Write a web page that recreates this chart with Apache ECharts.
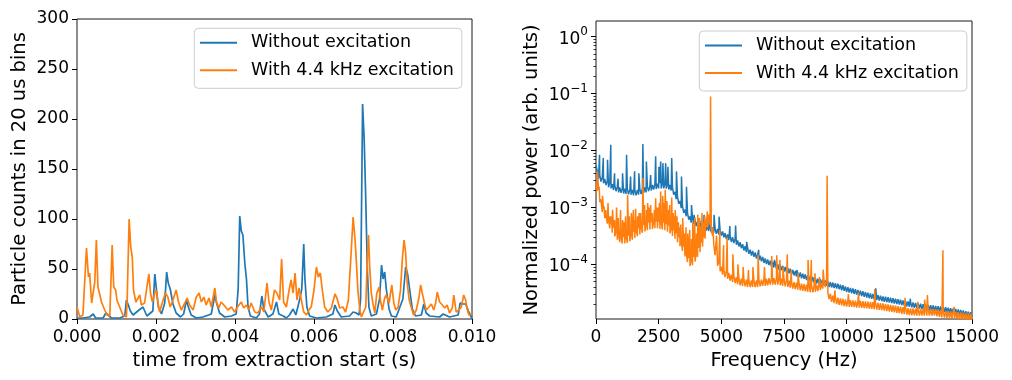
<!DOCTYPE html>
<html><head><meta charset="utf-8">
<script src="https://cdn.jsdelivr.net/npm/echarts@6/dist/echarts.min.js"></script>
<style>html,body{margin:0;padding:0;background:#fff}#c{width:1012px;height:380px}</style>
</head><body><div id="c"></div>
<script>
const seriesNames = ['Without excitation', 'With 4.4 kHz excitation'];
const colors = ['#1f77b4', '#ff7f0e'];

// Left panel: particle counts per 20 us bin, [time (s), counts]
const countsBlue = [[0,1],[0.00015,1],[0.00032,2],[0.00041,5],[0.00047,1],[0.00066,1],[0.00073,6],[0.00078,4],[0.00087,1],[0.00108,1],[0.00121,3],[0.00125,19],[0.0013,14],[0.00135,8],[0.00142,4],[0.00154,8],[0.00167,12],[0.00177,3],[0.00192,8],[0.00197,45],[0.00201,30],[0.00206,12],[0.00214,5],[0.00222,16],[0.00227,47],[0.00231,36],[0.00236,30],[0.00243,15],[0.00251,6],[0.00262,2],[0.0027,5],[0.00277,19],[0.00282,12],[0.00289,4],[0.00302,1],[0.00319,2],[0.0034,5],[0.00349,24],[0.00354,15],[0.00361,6],[0.00374,2],[0.00391,3],[0.00403,5],[0.00408,30],[0.00412,103],[0.00416,88],[0.0042,84],[0.00425,55],[0.00429,40],[0.00433,12],[0.00439,3],[0.00454,1],[0.00462,5],[0.00468,23],[0.00473,10],[0.00484,2],[0.00496,5],[0.00505,17],[0.00511,5],[0.00522,3],[0.0053,1],[0.00538,4],[0.00547,10],[0.00554,4],[0.00564,20],[0.00569,30],[0.00574,75],[0.00577,40],[0.00582,12],[0.00589,3],[0.00606,1],[0.00631,2],[0.00648,5],[0.00653,14],[0.00659,8],[0.00669,2],[0.0069,3],[0.00699,7],[0.00707,6],[0.00714,4],[0.00718,20],[0.00723,215],[0.00727,180],[0.00731,120],[0.00735,50],[0.00739,12],[0.00745,3],[0.00758,5],[0.00766,20],[0.00771,54],[0.00775,40],[0.00779,47],[0.00783,30],[0.0079,10],[0.00796,3],[0.00808,2],[0.00825,20],[0.00832,52],[0.00837,45],[0.00842,30],[0.00849,10],[0.00857,3],[0.00872,4],[0.00878,15],[0.00884,6],[0.00893,3],[0.00918,2],[0.00927,5],[0.00943,2],[0.00965,4],[0.0097,16],[0.00977,15],[0.00984,15],[0.00991,8],[0.01,0]];
const countsOrange = [[0,12],[0.00007,2],[0.00015,4],[0.00024,71],[0.00029,42],[0.00032,46],[0.00037,16],[0.00041,14],[0.00045,37],[0.00049,79],[0.00053,32],[0.00057,31],[0.00062,17],[0.0007,9],[0.00076,4],[0.00083,3],[0.00089,74],[0.00093,32],[0.00098,29],[0.00101,19],[0.00108,12],[0.00116,4],[0.00125,2],[0.00127,19],[0.00132,100],[0.00136,72],[0.0014,62],[0.00143,29],[0.00149,17],[0.00154,19],[0.00159,24],[0.00163,14],[0.00171,16],[0.00177,32],[0.00182,45],[0.00186,26],[0.00191,17],[0.00197,26],[0.00201,29],[0.00205,16],[0.00209,7],[0.00218,19],[0.00224,26],[0.0023,22],[0.00236,12],[0.00243,19],[0.00251,29],[0.00257,17],[0.00264,9],[0.00273,16],[0.00279,21],[0.00285,14],[0.00294,9],[0.00302,22],[0.00309,26],[0.00315,17],[0.00321,22],[0.00327,14],[0.00334,21],[0.0034,12],[0.00349,31],[0.00353,17],[0.00359,11],[0.00365,17],[0.00374,13],[0.00382,9],[0.00391,12],[0.00399,7],[0.00408,13],[0.00416,17],[0.00422,11],[0.00429,14],[0.00435,9],[0.00441,16],[0.0045,7],[0.00458,6],[0.00467,12],[0.00473,7],[0.00481,36],[0.00486,17],[0.00492,9],[0.005,29],[0.00506,26],[0.00513,19],[0.00518,60],[0.00523,17],[0.0053,12],[0.00537,29],[0.00542,39],[0.00547,26],[0.00552,46],[0.00557,19],[0.00562,31],[0.00568,19],[0.00574,7],[0.00581,4],[0.00587,9],[0.00593,12],[0.006,29],[0.00606,52],[0.00611,42],[0.00616,46],[0.00621,29],[0.00627,12],[0.00635,7],[0.00644,11],[0.00653,25],[0.00658,21],[0.00665,11],[0.00673,12],[0.0068,7],[0.00687,19],[0.00694,66],[0.00699,102],[0.00704,79],[0.00707,59],[0.00711,29],[0.00716,9],[0.0072,2],[0.00724,1],[0.00731,12],[0.00734,49],[0.00738,84],[0.00741,52],[0.00745,26],[0.00749,16],[0.00754,6],[0.00759,26],[0.00765,32],[0.00768,19],[0.00773,9],[0.00779,21],[0.00783,24],[0.0079,16],[0.00797,34],[0.00802,16],[0.00807,9],[0.00813,12],[0.00819,29],[0.00824,62],[0.00828,79],[0.00832,66],[0.00836,36],[0.00841,19],[0.00846,12],[0.00852,4],[0.00859,9],[0.00866,22],[0.0087,34],[0.00874,26],[0.00879,17],[0.00884,9],[0.00891,12],[0.00897,15],[0.00903,9],[0.00908,16],[0.00912,27],[0.00918,17],[0.00925,14],[0.00931,11],[0.00937,14],[0.00943,6],[0.0095,11],[0.00954,24],[0.0096,7],[0.00967,9],[0.00973,12],[0.00979,24],[0.00984,19],[0.00987,11],[0.00992,4],[0.01,6]];

// Right panel: normalized power spectrum, [frequency (Hz), power] — noisy band edges and spikes
const powerBlueBase = [[0,5.5e-3],[50,4.4e-3],[100,3.2e-3],[150,3.7e-3],[200,2.85e-3],[250,3.35e-3],[300,2.66e-3],[350,3.16e-3],[400,2.48e-3],[450,2.92e-3],[500,2.26e-3],[550,2.72e-3],[600,2.16e-3],[650,2.57e-3],[700,2.02e-3],[750,2.43e-3],[800,1.93e-3],[850,2.32e-3],[900,1.84e-3],[950,2.24e-3],[1000,1.8e-3],[1050,2.19e-3],[1100,1.76e-3],[1150,2.14e-3],[1200,1.72e-3],[1250,2.11e-3],[1300,1.7e-3],[1350,2.07e-3],[1400,1.68e-3],[1450,2.04e-3],[1500,1.64e-3],[1550,2.02e-3],[1600,1.64e-3],[1650,2.04e-3],[1700,1.68e-3],[1750,2.07e-3],[1800,1.72e-3],[1850,2.16e-3],[1900,1.8e-3],[1950,2.24e-3],[2000,1.84e-3],[2050,2.32e-3],[2100,1.93e-3],[2150,2.4e-3],[2200,1.98e-3],[2250,2.48e-3],[2300,2.07e-3],[2350,2.57e-3],[2400,2.11e-3],[2450,2.63e-3],[2500,2.16e-3],[2550,2.66e-3],[2600,2.16e-3],[2650,2.66e-3],[2700,2.16e-3],[2750,2.63e-3],[2800,2.14e-3],[2850,2.57e-3],[2900,2.07e-3],[2950,2.48e-3],[3000,1.98e-3],[3050,2.26e-3],[3100,1.68e-3],[3150,1.88e-3],[3200,1.4e-3],[3250,1.57e-3],[3300,1.16e-3],[3350,1.3e-3],[3400,9.7e-4],[3450,1.08e-3],[3500,8.0e-4],[3550,9.2e-4],[3600,7.0e-4],[3650,8.0e-4],[3700,6.1e-4],[3750,7.0e-4],[3800,5.4e-4],[3850,6.5e-4],[3900,5.1e-4],[3950,6.0e-4],[4000,4.7e-4],[4050,5.7e-4],[4100,4.5e-4],[4150,5.4e-4],[4200,4.3e-4],[4250,5.2e-4],[4300,4.1e-4],[4350,4.95e-4],[4400,3.94e-4],[4450,4.8e-4],[4500,3.85e-4],[4550,4.6e-4],[4600,3.67e-4],[4650,4.47e-4],[4700,3.6e-4],[4750,4.3e-4],[4800,3.43e-4],[4850,4.2e-4],[4900,3.35e-4],[4950,4.0e-4],[5000,3.2e-4],[5050,3.8e-4],[5100,3.0e-4],[5150,3.55e-4],[5200,2.79e-4],[5250,3.35e-4],[5300,2.66e-4],[5350,3.16e-4],[5400,2.48e-4],[5450,3.0e-4],[5500,2.37e-4],[5550,2.82e-4],[5600,2.21e-4],[5650,2.63e-4],[5700,2.07e-4],[5750,2.45e-4],[5800,1.93e-4],[5850,2.26e-4],[5900,1.76e-4],[5950,2.09e-4],[6000,1.64e-4],[6050,1.95e-4],[6100,1.53e-4],[6150,1.82e-4],[6200,1.43e-4],[6250,1.72e-4],[6300,1.36e-4],[6350,1.62e-4],[6400,1.27e-4],[6450,1.51e-4],[6500,1.19e-4],[6550,1.43e-4],[6600,1.13e-4],[6650,1.35e-4],[6700,1.06e-4],[6750,1.27e-4],[6800,1.01e-4],[6850,1.22e-4],[6900,9.7e-5],[6950,1.16e-4],[7000,9.2e-5],[7050,1.11e-4],[7100,8.8e-5],[7150,1.06e-4],[7200,8.4e-5],[7250,1.01e-4],[7300,8.0e-5],[7350,9.8e-5],[7400,7.85e-5],[7450,9.4e-5],[7500,7.5e-5],[7550,9.0e-5],[7600,7.2e-5],[7650,8.7e-5],[7700,7.0e-5],[7750,8.4e-5],[7800,6.7e-5],[7850,8.0e-5],[7900,6.4e-5],[7950,7.7e-5],[8000,6.1e-5],[8050,7.4e-5],[8100,6.0e-5],[8150,7.2e-5],[8200,5.7e-5],[8250,6.9e-5],[8300,5.6e-5],[8350,6.7e-5],[8400,5.3e-5],[8450,6.5e-5],[8500,5.2e-5],[8550,6.2e-5],[8600,4.95e-5],[8650,6.0e-5],[8700,4.8e-5],[8750,5.8e-5],[8800,4.6e-5],[8850,5.6e-5],[8900,4.5e-5],[8950,5.5e-5],[9000,4.4e-5],[9050,5.4e-5],[9100,4.3e-5],[9150,5.25e-5],[9200,4.2e-5],[9250,5.1e-5],[9300,4.0e-5],[9350,4.9e-5],[9400,3.94e-5],[9450,4.8e-5],[9500,3.85e-5],[9550,4.7e-5],[9600,3.76e-5],[9650,4.6e-5],[9700,3.67e-5],[9750,4.4e-5],[9800,3.5e-5],[9850,4.3e-5],[9900,3.43e-5],[9950,4.1e-5],[10000,3.27e-5],[10050,4.0e-5],[10100,3.2e-5],[10150,3.88e-5],[10200,3.11e-5],[10250,3.78e-5],[10300,3.03e-5],[10350,3.67e-5],[10400,2.94e-5],[10450,3.56e-5],[10500,2.85e-5],[10550,3.46e-5],[10600,2.77e-5],[10650,3.37e-5],[10700,2.7e-5],[10750,3.27e-5],[10800,2.62e-5],[10850,3.18e-5],[10900,2.55e-5],[10950,3.1e-5],[11000,2.48e-5],[11050,3.02e-5],[11100,2.43e-5],[11150,2.95e-5],[11200,2.37e-5],[11250,2.88e-5],[11300,2.32e-5],[11350,2.82e-5],[11400,2.26e-5],[11450,2.75e-5],[11500,2.21e-5],[11550,2.7e-5],[11600,2.17e-5],[11650,2.65e-5],[11700,2.13e-5],[11750,2.6e-5],[11800,2.09e-5],[11850,2.55e-5],[11900,2.06e-5],[11950,2.51e-5],[12000,2.02e-5],[12050,2.45e-5],[12100,1.97e-5],[12150,2.4e-5],[12200,1.93e-5],[12250,2.34e-5],[12300,1.88e-5],[12350,2.29e-5],[12400,1.84e-5],[12450,2.24e-5],[12500,1.8e-5],[12550,2.19e-5],[12600,1.77e-5],[12650,2.15e-5],[12700,1.73e-5],[12750,2.11e-5],[12800,1.7e-5],[12850,2.07e-5],[12900,1.67e-5],[12950,2.04e-5],[13000,1.64e-5],[13050,2.0e-5],[13100,1.62e-5],[13150,1.98e-5],[13200,1.6e-5],[13250,1.95e-5],[13300,1.57e-5],[13350,1.92e-5],[13400,1.55e-5],[13450,1.9e-5],[13500,1.53e-5],[13550,1.87e-5],[13600,1.51e-5],[13650,1.85e-5],[13700,1.49e-5],[13750,1.82e-5],[13800,1.47e-5],[13850,1.79e-5],[13900,1.45e-5],[13950,1.77e-5],[14000,1.43e-5],[14050,1.74e-5],[14100,1.4e-5],[14150,1.71e-5],[14200,1.38e-5],[14250,1.68e-5],[14300,1.35e-5],[14350,1.65e-5],[14400,1.33e-5],[14450,1.62e-5],[14500,1.3e-5],[14550,1.58e-5],[14600,1.27e-5],[14650,1.55e-5],[14700,1.24e-5],[14750,1.51e-5],[14800,1.22e-5],[14850,1.48e-5],[14900,1.19e-5],[14950,1.45e-5],[15000,1.2e-5]];
const powerBlueSpikes = [[140,8.4e-3],[290,7.4e-3],[460,6.9e-3],[590,1.26e-2],[740,4.0e-3],[880,3.2e-3],[1060,4.0e-3],[1220,8.4e-3],[1380,3.5e-3],[1540,4.3e-3],[1710,4.0e-3],[1870,1.3e-2],[2010,6.4e-3],[2180,3.7e-3],[2380,7.9e-3],[2510,5.2e-3],[2580,6.4e-3],[2670,6.0e-3],[2780,6.0e-3],[2870,5.2e-3],[3020,7.4e-3],[3210,4.3e-3],[3410,3.5e-3],[3610,2.3e-3],[3810,1.1e-3],[3910,7.4e-4],[4110,6.5e-4],[4310,7.4e-4],[4510,6.5e-4],[4710,7.4e-4],[4910,6.9e-4],[5340,4.7e-4],[5570,4.8e-4],[6010,2.5e-4],[6490,1.8e-4],[7120,1.2e-4],[8010,8e-5],[11160,3.8e-5],[12540,2.5e-5]];
const powerOrangeBase = [[0,2.6e-3],[50,1.95e-3],[100,2.04e-3],[150,1.23e-3],[200,1.29e-3],[250,8.3e-4],[300,9.5e-4],[350,6.5e-4],[400,7.6e-4],[450,5.2e-4],[500,6.2e-4],[550,4.3e-4],[600,5.1e-4],[650,3.6e-4],[700,4.4e-4],[750,3.1e-4],[800,3.8e-4],[850,2.72e-4],[900,3.4e-4],[950,2.45e-4],[1000,3.1e-4],[1050,2.32e-4],[1100,3.0e-4],[1150,2.32e-4],[1200,3.1e-4],[1250,2.4e-4],[1300,3.2e-4],[1350,2.54e-4],[1400,3.5e-4],[1450,2.72e-4],[1500,3.7e-4],[1550,2.92e-4],[1600,4.0e-4],[1650,3.13e-4],[1700,4.3e-4],[1750,3.35e-4],[1800,4.6e-4],[1850,3.6e-4],[1900,4.9e-4],[1950,3.8e-4],[2000,5.1e-4],[2050,4.0e-4],[2100,5.4e-4],[2150,4.1e-4],[2200,5.5e-4],[2250,4.2e-4],[2300,5.6e-4],[2350,4.3e-4],[2400,5.6e-4],[2450,4.3e-4],[2500,5.6e-4],[2550,4.2e-4],[2600,5.5e-4],[2650,4.1e-4],[2700,5.4e-4],[2750,4.0e-4],[2800,5.1e-4],[2850,3.76e-4],[2900,4.8e-4],[2950,3.5e-4],[3000,4.4e-4],[3050,3.16e-4],[3100,4.0e-4],[3150,2.82e-4],[3200,3.5e-4],[3250,2.45e-4],[3300,3.0e-4],[3350,2.09e-4],[3400,2.5e-4],[3450,1.72e-4],[3500,2.04e-4],[3550,1.38e-4],[3600,1.62e-4],[3650,1.1e-4],[3700,1.29e-4],[3750,9.4e-5],[3800,1.2e-4],[3850,9.7e-5],[3900,1.35e-4],[3950,1.12e-4],[4000,1.62e-4],[4050,1.35e-4],[4100,1.95e-4],[4150,1.64e-4],[4200,2.4e-4],[4250,2.04e-4],[4300,3.0e-4],[4350,2.82e-4],[4400,4.6e-4],[4450,4.4e-4],[4500,7.5e-4],[4550,5.0e-4],[4600,4.0e-4],[4650,3.2e-4],[4700,2.2e-4],[4750,1.45e-4],[4800,1.45e-4],[4850,9.5e-5],[4900,1.1e-4],[4950,7.6e-5],[5000,9.1e-5],[5050,6.6e-5],[5100,8.3e-5],[5150,6.0e-5],[5200,7.6e-5],[5250,5.6e-5],[5300,7.1e-5],[5350,5.2e-5],[5400,6.6e-5],[5450,4.9e-5],[5500,6.3e-5],[5550,4.7e-5],[5600,6.0e-5],[5650,4.5e-5],[5700,5.75e-5],[5750,4.3e-5],[5800,5.6e-5],[5850,4.2e-5],[5900,5.5e-5],[5950,4.1e-5],[6000,5.4e-5],[6050,4.0e-5],[6100,5.25e-5],[6150,4.0e-5],[6200,5.25e-5],[6250,4.0e-5],[6300,5.25e-5],[6350,4.0e-5],[6400,5.25e-5],[6450,4.0e-5],[6500,5.3e-5],[6550,4.1e-5],[6600,5.4e-5],[6650,4.2e-5],[6700,5.5e-5],[6750,4.2e-5],[6800,5.6e-5],[6850,4.3e-5],[6900,5.75e-5],[6950,4.4e-5],[7000,5.75e-5],[7050,4.4e-5],[7100,5.75e-5],[7150,4.4e-5],[7200,5.75e-5],[7250,4.4e-5],[7300,5.75e-5],[7350,4.3e-5],[7400,5.6e-5],[7450,4.2e-5],[7500,5.5e-5],[7550,4.1e-5],[7600,5.4e-5],[7650,4.0e-5],[7700,5.2e-5],[7750,3.9e-5],[7800,5.0e-5],[7850,3.76e-5],[7900,4.9e-5],[7950,3.67e-5],[8000,4.8e-5],[8050,3.6e-5],[8100,4.7e-5],[8150,3.5e-5],[8200,4.6e-5],[8250,3.43e-5],[8300,4.5e-5],[8350,3.35e-5],[8400,4.4e-5],[8450,3.3e-5],[8500,4.3e-5],[8550,3.24e-5],[8600,4.3e-5],[8650,3.24e-5],[8700,4.3e-5],[8750,3.3e-5],[8800,4.4e-5],[8850,3.4e-5],[8900,4.6e-5],[8950,3.55e-5],[9000,4.8e-5],[9050,3.76e-5],[9100,5.1e-5],[9150,4.0e-5],[9200,5.5e-5],[9250,3.2e-5],[9300,2.45e-5],[9350,3.05e-5],[9400,2.19e-5],[9450,2.82e-5],[9500,2.09e-5],[9550,2.69e-5],[9600,2.0e-5],[9650,2.6e-5],[9700,1.95e-5],[9750,2.54e-5],[9800,1.91e-5],[9850,2.48e-5],[9900,1.86e-5],[9950,2.43e-5],[10000,1.82e-5],[10050,2.39e-5],[10100,1.8e-5],[10150,2.37e-5],[10200,1.79e-5],[10250,2.34e-5],[10300,1.77e-5],[10350,2.32e-5],[10400,1.75e-5],[10450,2.3e-5],[10500,1.74e-5],[10550,2.28e-5],[10600,1.72e-5],[10650,2.26e-5],[10700,1.71e-5],[10750,2.24e-5],[10800,1.69e-5],[10850,2.22e-5],[10900,1.67e-5],[10950,2.2e-5],[11000,1.66e-5],[11050,2.17e-5],[11100,1.64e-5],[11150,2.14e-5],[11200,1.61e-5],[11250,2.11e-5],[11300,1.59e-5],[11350,2.08e-5],[11400,1.57e-5],[11450,2.06e-5],[11500,1.55e-5],[11550,2.02e-5],[11600,1.52e-5],[11650,1.99e-5],[11700,1.49e-5],[11750,1.95e-5],[11800,1.47e-5],[11850,1.91e-5],[11900,1.44e-5],[11950,1.88e-5],[12000,1.41e-5],[12050,1.85e-5],[12100,1.39e-5],[12150,1.81e-5],[12200,1.36e-5],[12250,1.78e-5],[12300,1.34e-5],[12350,1.75e-5],[12400,1.31e-5],[12450,1.71e-5],[12500,1.29e-5],[12550,1.69e-5],[12600,1.28e-5],[12650,1.69e-5],[12700,1.27e-5],[12750,1.67e-5],[12800,1.26e-5],[12850,1.66e-5],[12900,1.26e-5],[12950,1.66e-5],[13000,1.26e-5],[13050,1.66e-5],[13100,1.26e-5],[13150,1.66e-5],[13200,1.26e-5],[13250,1.66e-5],[13300,1.26e-5],[13350,1.66e-5],[13400,1.26e-5],[13450,1.66e-5],[13500,1.26e-5],[13550,1.64e-5],[13600,1.23e-5],[13650,1.6e-5],[13700,1.2e-5],[13750,1.57e-5],[13800,1.17e-5],[13850,1.53e-5],[13900,1.16e-5],[13950,1.51e-5],[14000,1.15e-5],[14050,1.51e-5],[14100,1.14e-5],[14150,1.49e-5],[14200,1.13e-5],[14250,1.48e-5],[14300,1.12e-5],[14350,1.47e-5],[14400,1.11e-5],[14450,1.45e-5],[14500,1.1e-5],[14550,1.44e-5],[14600,1.08e-5],[14650,1.42e-5],[14700,1.07e-5],[14750,1.4e-5],[14800,1.05e-5],[14850,1.38e-5],[14900,1.04e-5],[14950,1.36e-5],[15000,1.05e-5]];
const powerOrangeSpikes = [[60,4.3e-3],[130,2.3e-3],[180,1.4e-3],[260,1.6e-3],[320,1.05e-3],[390,9e-4],[480,1.2e-3],[560,7e-4],[610,7e-4],[660,9.1e-4],[740,6e-4],[820,1.0e-3],[890,6.5e-4],[980,9e-4],[1060,6e-4],[1130,5.5e-4],[1180,7e-4],[1260,1.66e-3],[1330,7e-4],[1410,8e-4],[1490,9e-4],[1540,6e-4],[1580,9.5e-4],[1660,7e-4],[1720,8e-4],[1780,8e-4],[1870,3.3e-3],[1940,1.1e-3],[2020,9e-4],[2060,1.2e-3],[2130,1.0e-3],[2180,1.1e-3],[2240,8e-4],[2330,9e-4],[2380,1.45e-3],[2440,1.0e-3],[2490,1.0e-3],[2530,1.2e-3],[2580,1.9e-3],[2660,1.6e-3],[2710,1.2e-3],[2760,2.05e-3],[2830,1.3e-3],[2880,9e-4],[2940,1.1e-3],[3020,1.5e-3],[3080,8e-4],[3120,7e-4],[3160,9e-4],[3230,7e-4],[3290,5.5e-4],[3340,4.5e-4],[3380,5e-4],[3460,6.5e-4],[3520,3.5e-4],[3590,4.5e-4],[3660,3.5e-4],[3740,4.0e-4],[3810,2.8e-4],[3860,5.5e-4],[3940,6.5e-4],[4010,3.5e-4],[4060,7.5e-4],[4130,6.5e-4],[4180,4.5e-4],[4230,8e-4],[4290,5.5e-4],[4340,7e-4],[4380,6e-4],[4440,8.5e-4],[4570,8.9e-2],[4660,4.5e-4],[4810,3.2e-4],[4940,4e-4],[5090,2.2e-4],[5230,3.0e-4],[5460,1.5e-4],[5660,1.0e-4],[5870,9e-5],[6080,8e-5],[6260,9e-5],[6470,1.48e-4],[6720,9e-5],[7010,1.4e-4],[7210,1.45e-4],[7340,1.2e-4],[7460,9e-5],[7630,1.5e-4],[7790,8e-5],[8060,7e-5],[8460,1.2e-4],[8590,1.2e-4],[8740,7e-5],[8920,6e-5],[9060,8.1e-5],[9220,3.6e-3],[9530,3.5e-5],[10070,3e-5],[10470,3.2e-5],[11120,3.7e-5],[12330,2.6e-5],[12840,2.2e-5],[13110,2.4e-5],[13220,2.9e-5],[13840,1.77e-4],[14290,1.8e-5]];

const logMajorTicks = [1e-4, 1e-3, 1e-2, 1e-1, 1];
const logMinorTicks = [2e-5,3e-5,4e-5,5e-5,6e-5,7e-5,8e-5,9e-5,2e-4,3e-4,4e-4,5e-4,6e-4,7e-4,8e-4,9e-4,2e-3,3e-3,4e-3,5e-3,6e-3,7e-3,8e-3,9e-3,2e-2,3e-2,4e-2,5e-2,6e-2,7e-2,8e-2,9e-2,0.2,0.3,0.4,0.5,0.6,0.7,0.8,0.9];

const byX = (a, b) => a[0] - b[0];
const powerBlue = powerBlueBase.concat(powerBlueSpikes).sort(byX);
const powerOrange = powerOrangeBase.concat(powerOrangeSpikes).sort(byX);

const FONT = 'DejaVu Sans';
const tickFont = { fontFamily: FONT, fontSize: 17, color: '#000' };
const nameFont = { fontFamily: FONT, fontSize: 19.5, color: '#000' };
const tick = { show: true, length: 5, lineStyle: { color: '#000', width: 1 } };

function legendAt(left, top) {
  return {
    left: left, top: top, orient: 'vertical',
    data: seriesNames.map(n => ({ name: n, icon: 'rect' })),
    itemWidth: 37, itemHeight: 2, itemGap: 9.5,
    padding: [5.5, 8, 9, 5.7],
    borderColor: '#cccccc', borderWidth: 1, borderRadius: 4,
    backgroundColor: 'rgba(255,255,255,0.8)',
    textStyle: { fontFamily: FONT, fontSize: 17.5, color: '#000', padding: [0, 0, 0, 9] },
    selectedMode: false
  };
}
function lineSeries(name, xi, data, color, width) {
  return {
    type: 'line', name: name, xAxisIndex: xi, yAxisIndex: xi, data: data,
    symbol: 'none', showSymbol: false, clip: true,
    lineStyle: { color: color, width: width }, itemStyle: { color: color },
    emphasis: { disabled: true }
  };
}

const chart = echarts.init(document.getElementById('c'), null, { renderer: 'canvas' });
chart.setOption({
  animation: false,
  color: colors,
  grid: [
    { left: 77, top: 19, width: 395, height: 300, show: true, borderColor: '#1a1a1a', borderWidth: 1, backgroundColor: 'transparent' },
    { left: 596, top: 21, width: 376, height: 298, show: true, borderColor: '#1a1a1a', borderWidth: 1, backgroundColor: 'transparent' }
  ],
  legend: [legendAt(194.3, 28.3), legendAt(699.3, 31)],
  xAxis: [
    { type: 'value', gridIndex: 0, min: 0, max: 0.01, interval: 0.002,
      name: 'time from extraction start (s)', nameLocation: 'middle', nameGap: 31, nameTextStyle: nameFont,
      axisLine: { show: false }, axisTick: tick, splitLine: { show: false },
      axisLabel: Object.assign({ margin: 10, formatter: v => v.toFixed(3) }, tickFont) },
    { type: 'value', gridIndex: 1, min: 0, max: 15000, interval: 2500,
      name: 'Frequency (Hz)', nameLocation: 'middle', nameGap: 31, nameTextStyle: nameFont,
      axisLine: { show: false }, axisTick: tick, splitLine: { show: false },
      axisLabel: Object.assign({ margin: 10, formatter: v => String(v) }, tickFont) }
  ],
  yAxis: [
    { type: 'value', gridIndex: 0, min: 0, max: 300, interval: 50,
      name: 'Particle counts in 20 us bins', nameLocation: 'middle', nameGap: 47, nameTextStyle: nameFont,
      axisLine: { show: false }, axisTick: tick, splitLine: { show: false },
      axisLabel: Object.assign({ margin: 8 }, tickFont) },
    { type: 'log', logBase: 10, gridIndex: 1, position: 'left', min: 1.1e-5, max: 1.88,
      name: 'Normalized power (arb. units)', nameLocation: 'middle', nameGap: 54, nameTextStyle: nameFont,
      axisLine: { show: false }, splitLine: { show: false },
      axisTick: Object.assign({ customValues: logMajorTicks }, tick),
      axisLabel: {
        customValues: logMajorTicks, margin: 8,
        formatter: v => {
          const e = Math.round(Math.log10(v));
          return '{b|10}{s|' + (e < 0 ? '\u2212' + (-e) : e) + '}';
        },
        rich: {
          b: { fontFamily: FONT, fontSize: 17, color: '#000', lineHeight: 22, verticalAlign: 'bottom' },
          s: { fontFamily: FONT, fontSize: 12, color: '#000', lineHeight: 12, verticalAlign: 'top' }
        }
      } },
    { type: 'log', logBase: 10, gridIndex: 1, position: 'left', offset: 0, min: 1.1e-5, max: 1.88,
      axisLine: { show: false }, splitLine: { show: false }, axisLabel: { show: false },
      axisTick: { show: true, length: 2.5, customValues: logMinorTicks, lineStyle: { color: '#000', width: 0.8 } } }
  ],
  series: [
    lineSeries(seriesNames[0], 0, countsBlue, colors[0], 1.7),
    lineSeries(seriesNames[1], 0, countsOrange, colors[1], 1.7),
    lineSeries(seriesNames[0], 1, powerBlue, colors[0], 1.5),
    lineSeries(seriesNames[1], 1, powerOrange, colors[1], 1.5)
  ]
});
</script>
</body></html>
